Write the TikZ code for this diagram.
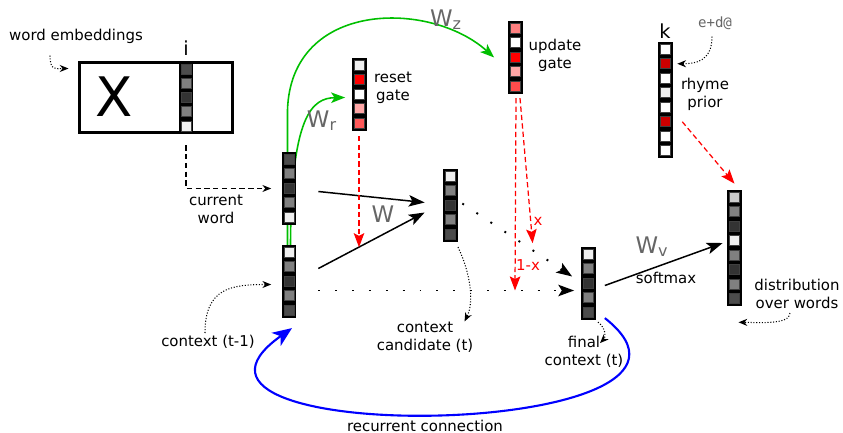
\documentclass[tikz,border=0pt]{standalone}
\usepackage{fontspec}
\setmainfont{DejaVu Sans}
\setmonofont{DejaVu Sans Mono}
\usetikzlibrary{
    arrows.meta,
    backgrounds,
    positioning
}

\begin{document}
\begin{tikzpicture} [x=0.02cm, y=-0.02cm,
    font=\fontsize{8.5}{10.2}\selectfont,
    frame/.style={rectangle,fill=black,inner sep=0pt,minimum width=0.3cm},
    cell/.style={rectangle,draw=black!75,line width=0.3pt,
                 inner sep=0pt,minimum size=0.2cm},
    note/.style={align=center,inner sep=0pt},
    wlabel/.style={text=black!60,inner sep=0pt,font=\fontsize{13}{13}\selectfont},
    weight/.style={line width=0.85pt,-{Stealth[inset=2pt,length=9pt,width=6.5pt]}},
    gate/.style={red,line width=0.7pt,dash pattern=on 3pt off 1.8pt,
                 -{Stealth[inset=1.5pt,length=8pt,width=6pt]}},
    sparse/.style={line width=1.1pt,dash pattern=on 1.1pt off 8.5pt,
                   -{Stealth[inset=2pt,length=9pt,width=6.5pt]}},
    pointer/.style={densely dotted,line width=0.6pt,-{Stealth[length=5pt,width=4pt]}},
    gateweight/.style={green!75!black,line width=0.9pt,
                 -{Stealth[inset=2pt,length=8pt,width=6pt]}},
    recur/.style={blue,line width=1.2pt,-{Stealth[inset=3pt,length=11pt,width=9pt]}}
]
    \useasboundingbox (0,0) rectangle (843,433);

    % embedding matrix
    \node[draw,line width=0.06cm,minimum width=3.08cm,minimum height=1.42cm] (emb) at (156,97.5) {};
    \node[font=\fontsize{31}{31}\selectfont] (xlabel) at (114,97) {X};
    \node[frame,minimum height=1.42cm] (embcol) at (186,97.5) {};
    \foreach \c [count=\i] in {black!70,black!50,black!80,black!50,black!6}
        \node[cell,fill=\c] (embcol-\i) at (186,{62+14.2*\i-7.1}) {};
    \node[font=\fontsize{11}{11}\selectfont] (ilabel) at (186,48) {i};

    % current word and previous context
    \node[frame,minimum height=1.45cm] (cw) at (289,188.5) {};
    \foreach \c [count=\i] in {black!70,black!50,black!80,black!50,black!6}
        \node[cell,fill=\c] (cw-\i) at (289,{152+14.5*\i-7.25}) {};
    \node[frame,minimum height=1.45cm] (cp) at (289,281.5) {};
    \foreach \c [count=\i] in {black!6,black!50,black!80,black!50,black!70}
        \node[cell,fill=\c] (cp-\i) at (289,{245+14.5*\i-7.25}) {};

    % gates
    \node[frame,minimum height=1.45cm] (rg) at (359,94.5) {};
    \foreach \c [count=\i] in {black!6,red,white,red!35,red!65}
        \node[cell,fill=\c] (rg-\i) at (359,{58+14.5*\i-7.25}) {};
    \node[frame,minimum height=1.45cm] (ug) at (515,57.5) {};
    \foreach \c [count=\i] in {red!50,white,red,red!35,red!70}
        \node[cell,fill=\c] (ug-\i) at (515,{21+14.5*\i-7.25}) {};

    % candidate and final context
    \node[frame,minimum height=1.45cm] (cc) at (450,205.5) {};
    \foreach \c [count=\i] in {black!6,black!50,black!80,black!50,black!70}
        \node[cell,fill=\c] (cc-\i) at (450,{169+14.5*\i-7.25}) {};
    \node[frame,minimum height=1.45cm] (fc) at (588,283.5) {};
    \foreach \c [count=\i] in {black!6,black!50,black!80,black!50,black!70}
        \node[cell,fill=\c] (fc-\i) at (588,{247+14.5*\i-7.25}) {};

    % output distribution and rhyme prior
    \node[frame,minimum height=2.32cm] (dist) at (734.5,248) {};
    \foreach \c [count=\i] in {black!20,black!50,black!80,black!6,black!50,black!80,black!50,black!70}
        \node[cell,fill=\c] (dist-\i) at (734.5,{190+14.5*\i-7.25}) {};
    \node[frame,minimum height=2.32cm] (rp) at (665,100) {};
    \foreach \c [count=\i] in {white,red!80!black,white,black!6,white,red!80!black,white,white}
        \node[cell,fill=\c] (rp-\i) at (665,{42+14.5*\i-7.25}) {};
    \node[font=\fontsize{11}{11}\selectfont] (klabel) at (665,31) {k};
    \node[text=black!60,font=\ttfamily\fontsize{8}{8}\selectfont] (eda) at (715,23) {e+d@};

    % texts
    \node[note] (embnote) at (76,36) {word embeddings};
    \node[note] (cwnote) at (216,209) {current\\word};
    \node[note] (cpnote) at (208,342) {context (t-1)};
    \node[note] (ccnote) at (425,337) {context\\candidate (t)};
    \node[note] (fcnote) at (584,352) {final\\context (t)};
    \node[note] (rgnote) at (393,88) {reset\\gate};
    \node[note] (ugnote) at (555,55) {update\\gate};
    \node[note] (rpnote) at (705,94) {rhyme\\prior};
    \node[note] (distnote) at (797,294) {distribution\\over words};
    \node[note] (smnote) at (666,278) {softmax};
    \node[note] (rcnote) at (425,426) {recurrent connection};
    \node[wlabel] (wz) at (446,20) {W\textsubscript{z}};
    \node[wlabel] (wr) at (322,121) {W\textsubscript{r}};
    \node[wlabel] (w) at (383,214) {W};
    \node[wlabel] (wv) at (652,247) {W\textsubscript{v}};

    % gate weights, behind the vectors
    \begin{scope}[on background layer]
        \draw[gateweight] ([shift={(-1.5,0)}]cp.north) -- (287.5,110) .. controls (291,0) and (430,0) .. ([shift={(-13,0)}]ug.west);
        \draw[gateweight] ([shift={(1.5,0)}]cp.north) .. controls (291,115) and (312,98) .. ([shift={(-6,3)}]rg.west);
    \end{scope}

    % weights into the candidate
    \draw[weight] ([shift={(21.5,3)}]cw.east) -- ([shift={(-17.5,-3)}]cc.west);
    \draw[weight] ([shift={(21.5,-13)}]cp.east) -- coordinate[pos=0.38] (wmid) ([shift={(-17.5,7)}]cc.west);
    \draw[weight] ([shift={(9,2)}]fc.east) -- ([shift={(-4,-5)}]dist.west);

    % interpolation
    \coordinate (hz) at ([shift={(21.5,9)}]cp.east);
    \coordinate (dg) at ([shift={(4.5,-2)}]cc.east);
    \draw[sparse] (hz) -- ([shift={(-6,7)}]fc.west);
    \draw[sparse] (dg) -- ([shift={(-8,-7)}]fc.west);
    \path (dg) -- ([shift={(-8,-7)}]fc.west) coordinate[pos=0.64] (xin);

    % gates applied
    \draw[gate] ([shift={(0,5)}]rg.south) -- (rg.south |- wmid);
    \draw[gate] ([shift={(1,4)}]ug.south) -- (ug.south |- hz);
    \draw[gate] ([shift={(5,4)}]ug.south) -- ([shift={(0,-7)}]xin);
    \node[red,inner sep=0pt] (xlab) at (538,221) {x};
    \node[red,inner sep=0pt] (onexlab) at (528,265) {1-x};
    \draw[gate] ([shift={(12,0)}]rp-6.east) -- ([shift={(0,-6)}]dist.north);

    % pointers
    \draw[pointer] ([shift={(-26,12)}]embnote.south) .. controls +(0,16) and +(-12,0) .. ([shift={(-9,8)}]emb.north west);
    \draw[densely dashed,line width=0.6pt,-{Stealth[length=5pt,width=4pt]}] ([shift={(0,12)}]embcol.south) |- ([shift={(-10,0)}]cw.west);
    \draw[pointer] ([shift={(-3,-2)}]cpnote.north) .. controls +(0,-45) and +(-40,0) .. ([shift={(-10,3)}]cp.west);
    \draw[pointer] ([shift={(8,5)}]cc.south) .. controls +(12,25) and +(10,-20) .. ([shift={(-9,0)}]ccnote.north east);
    \draw[pointer] ([shift={(10,2)}]fc.south) .. controls +(8,6) and +(6,-6) .. ([shift={(12,23)}]fc.south);
    \draw[pointer] ([shift={(-7,4)}]distnote.south) .. controls +(0,12) and +(18,0) .. ([shift={(4,16)}]dist.south);
    \draw[pointer] ([shift={(-3,1)}]eda.south) .. controls +(0,25) and +(18,0) .. ([shift={(7,0)}]rp-2.east);

    % recurrence
    \draw[recur] ([shift={(9,-2)}]fc.south east) .. controls (760,440) and (120,450) .. ([shift={(3,10)}]cp.south);
\end{tikzpicture}
\end{document}
